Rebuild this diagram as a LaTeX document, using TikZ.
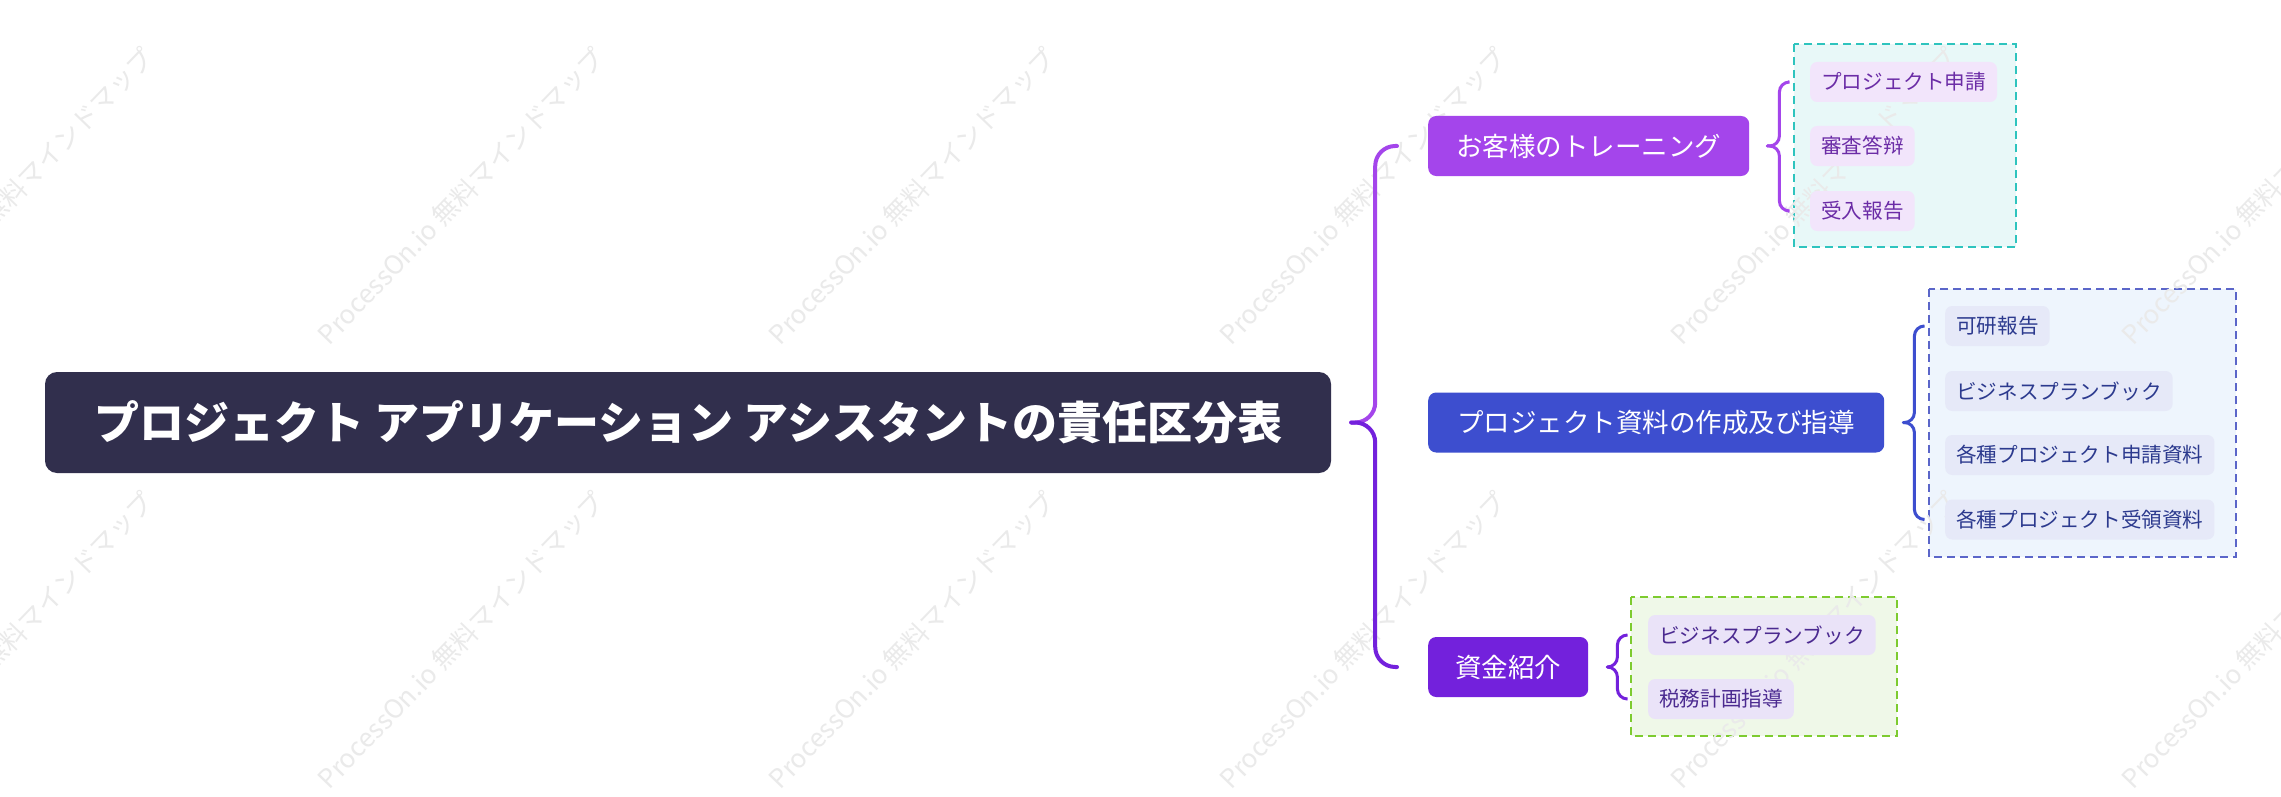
\documentclass[tikz,border=0pt]{standalone}
\usepackage{fontspec}
\newfontfamily\cjk{Noto Sans CJK JP}
\usetikzlibrary{calc}
\pgfdeclarelayer{bg}
\pgfsetlayers{bg,main}
\definecolor{rootc}{HTML}{312F4D}
\definecolor{cA}{HTML}{A445EB}
\definecolor{cB}{HTML}{3D4ECF}
\definecolor{cC}{HTML}{7321DC}
\definecolor{gAline}{HTML}{2EC4BE}
\definecolor{gAfill}{HTML}{E8F8F8}
\definecolor{gBline}{HTML}{5B66C9}
\definecolor{gBfill}{HTML}{EEF5FD}
\definecolor{gCline}{HTML}{7DCB2F}
\definecolor{gCfill}{HTML}{EFF8E8}
\definecolor{iAfill}{HTML}{F2E5FB}
\definecolor{iAtext}{HTML}{6B2CA6}
\definecolor{iBfill}{HTML}{E6E9F8}
\definecolor{iBtext}{HTML}{2C3A8E}
\definecolor{iCfill}{HTML}{EAE3F8}
\definecolor{iCtext}{HTML}{4B2A90}
\definecolor{wm}{HTML}{EAEAEA}
\tikzset{
  rootbox/.style={fill=rootc, text=white, rounded corners=12pt, minimum width=1286pt, minimum height=101pt, inner sep=0pt, font=\cjk\bfseries\fontsize{45}{50}\selectfont},
  mainbox/.style={rounded corners=8pt, text=white, minimum height=60pt, inner sep=0pt, anchor=west, font=\cjk\fontsize{26.5}{30}\selectfont},
  itembox/.style={rounded corners=7pt, minimum height=40pt, inner xsep=11pt, inner ysep=0pt, anchor=west, font=\cjk\fontsize{20.6}{24}\selectfont},
  groupbox/.style={line width=2.5pt, dash pattern=on 8pt off 5pt},
  bigbrace/.style={line width=4pt, rounded corners=20pt, line cap=round},
  smallbrace/.style={line width=3pt, rounded corners=10pt, line cap=round},
  wmark/.style={text=wm, rotate=46, font=\cjk\fontsize{26}{30}\selectfont, inner sep=0pt}
}
\begin{document}
\begin{tikzpicture}[x=1pt,y=-1pt]
\useasboundingbox (0,0) rectangle (2281,797);

% group frames
\begin{pgfonlayer}{bg}
\fill[white] (0,0) rectangle (2281,797);
\draw[groupbox, draw=gAline, fill=gAfill] (1794,44) rectangle (2016,247);
\draw[groupbox, draw=gBline, fill=gBfill] (1929,289) rectangle (2236,557);
\draw[groupbox, draw=gCline, fill=gCfill] (1631,597) rectangle (1897,736);
\foreach \x in {10,461,912,1363,1814,2265}{
  \foreach \y in {196,640}{
    \node[wmark] at (\x,\y) {ProcessOn.io 無料マインドマップ};
  }
}
\end{pgfonlayer}

% root
\node[rootbox] (root) at (688,422.5) {プロジェクト アプリケーション アシスタントの責任区分表};

% main branches
\node[mainbox, fill=cA, minimum width=321pt] (b1) at (1428,146) {お客様のトレーニング};
\node[mainbox, fill=cB, minimum width=456pt] (b2) at (1428,422.5) {プロジェクト資料の作成及び指導};
\node[mainbox, fill=cC, minimum width=160pt] (b3) at (1428,667) {資金紹介};

% items group A
\node[itembox, fill=iAfill, text=iAtext] (a1) at (1810,82) {プロジェクト申請};
\node[itembox, fill=iAfill, text=iAtext] (a2) at (1810,146) {審査答辩};
\node[itembox, fill=iAfill, text=iAtext] (a3) at (1810,211) {受入報告};

% items group B
\node[itembox, fill=iBfill, text=iBtext] (c1) at (1945,326) {可研報告};
\node[itembox, fill=iBfill, text=iBtext] (c2) at (1945,391) {ビジネスプランブック};
\node[itembox, fill=iBfill, text=iBtext] (c3) at (1945,455) {各種プロジェクト申請資料};
\node[itembox, fill=iBfill, text=iBtext] (c4) at (1945,519.5) {各種プロジェクト受領資料};

% items group C
\node[itembox, fill=iCfill, text=iCtext] (d1) at (1648,635) {ビジネスプランブック};
\node[itembox, fill=iCfill, text=iCtext] (d2) at (1648,699) {税務計画指導};

% main brace
\coordinate (t0) at ($(root.east)+(20,0)$);
\draw[bigbrace, cA] ($(b1.west)+(-31,0)$) -| ($(t0)+(24,0)$) -- (t0);
\draw[bigbrace, cC] ($(b3.west)+(-31,0)$) -| ($(t0)+(24,0)$) -- (t0);

% sub braces
\coordinate (tA) at ($(b1.east)+(18,0)$);
\draw[smallbrace, cA] ($(a1.west)+(-22,0)$) -| ($(tA)+(12,0)$) -- (tA);
\draw[smallbrace, cA] ($(a3.west)+(-22,0)$) -| ($(tA)+(12,0)$) -- (tA);

\coordinate (tB) at ($(b2.east)+(19,0)$);
\draw[smallbrace, cB] ($(c1.west)+(-22,0)$) -| ($(tB)+(11,0)$) -- (tB);
\draw[smallbrace, cB] ($(c4.west)+(-22,0)$) -| ($(tB)+(11,0)$) -- (tB);

\coordinate (tC) at ($(b3.east)+(19,0)$);
\draw[smallbrace, cC] ($(d1.west)+(-21,0)$) -| ($(tC)+(10,0)$) -- (tC);
\draw[smallbrace, cC] ($(d2.west)+(-21,0)$) -| ($(tC)+(10,0)$) -- (tC);
\end{tikzpicture}
\end{document}
